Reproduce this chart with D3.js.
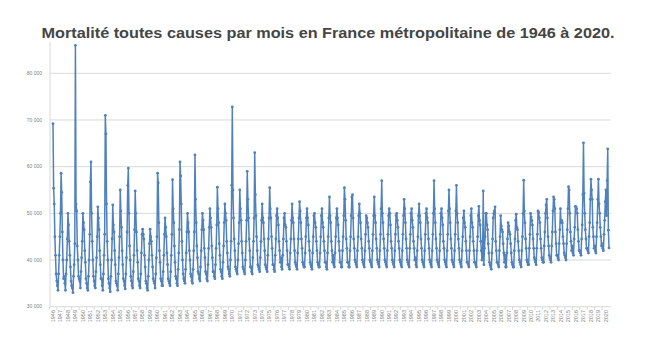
<!DOCTYPE html>
<html><head><meta charset="utf-8">
<script src="https://cdn.jsdelivr.net/npm/d3@7"></script>
<style>html,body{margin:0;padding:0;background:#fff;}svg{display:block;}</style>
</head><body>
<svg id="chart" width="650" height="349"></svg>
<script>
const chartTitle = "Mortalité toutes causes par mois en France métropolitaine de 1946 à 2020.";
const yearLabels = d3.range(1946, 2021).map(String);
const yTickValues = [30, 40, 50, 60, 70, 80];
const yTickLabels = ["30 000", "40 000", "50 000", "60 000", "70 000", "80 000"];
// monthly deaths (thousands), Jan 1946 → Jun 2020
const monthlyDeathsK = [
/*1946*/ 69.2,55.4,52.0,45,41,37,35.5,34.5,33.5,37,41,45,
/*1947*/ 50,58.6,54.5,46,40,36,36.5,35,33.5,37,40,44.5,
/*1948*/ 50.0,47.5,44,41,38.5,35.5,34.5,34,33,36.5,39,43.5,
/*1949*/ 86.0,52.0,50.5,43,40,36.5,36,35.5,34,37.5,40.5,44,
/*1950*/ 50.0,48.0,46.5,42,39.5,36,35,34,33.5,36.5,40,45.5,
/*1951*/ 56.7,61.0,50,44,40,36.5,35.5,34.5,34,37.5,40.5,45,
/*1952*/ 51.4,49,46.5,42,39,36,36,34.5,33.5,37,41,45.5,
/*1953*/ 71.0,67.0,52,44,40,36,35,34,33.2,36.5,40,44.5,
/*1954*/ 51.8,47.5,46,42,39,35.5,35,34.5,33.5,37,40.5,45,
/*1955*/ 55.0,50.5,47,42,39,36,35.5,34.5,33.8,37,40.5,46,
/*1956*/ 56.0,59.7,50,43,40,36.5,35.5,34.5,34,37.5,41,46.5,
/*1957*/ 54.8,50,46,42,39.5,36,35.5,34.5,34,37,41.5,45.5,
/*1958*/ 46.6,45.5,44.5,41,38.5,35.5,35,34,33.5,36.5,40,43.5,
/*1959*/ 46.6,45,44,41,38.5,36,35.5,35,34,37,40.5,45,
/*1960*/ 58.6,56.5,48,42,39.5,36,35.5,34.5,34.5,37.5,41,45.5,
/*1961*/ 49,47,45,41.5,39,36,35.5,35,34.5,37.5,41,45.5,
/*1962*/ 57.2,51,48,43,39.5,36.5,36,35,34.5,38,41.5,46.5,
/*1963*/ 61.0,58,52,44,40,37,36,35.5,35,38,41.5,46,
/*1964*/ 50,48,46,42,40,37,36.5,35.5,35,38,42,46,
/*1965*/ 62.5,53,48,43,40.5,37.5,37,36,35.5,38.5,42,46.5,
/*1966*/ 50,48.5,46.5,42.5,40.5,37.5,37,36,35.5,39,42.5,47,
/*1967*/ 51,49,47,43,40.5,37.5,37.5,36.5,36,39,42.5,47.5,
/*1968*/ 55.6,51,48,43.5,41,38,37.5,36.5,36,39.5,43,48,
/*1969*/ 52,50,48.5,44,41.5,38.5,38,37,36.5,40,44,56,
/*1970*/ 72.8,55,49,44.5,42,38.5,38,37.5,37,40,43.5,48,
/*1971*/ 55,51,48.5,44,41.5,38.5,38,37.5,37,40,44,48.5,
/*1972*/ 59,53,49,44.5,42,38.5,38.5,37.5,37,40.5,44,49,
/*1973*/ 63,54,49.5,45,42,39,38.5,38,37.5,40.5,44,48.5,
/*1974*/ 52,49,48,44.5,42,39,38.5,38,37.5,41,44.5,49,
/*1975*/ 55.5,51,49,45,42.5,39,39,38,37.5,41,44.5,49.5,
/*1976*/ 51,49,47.5,44,42,39.5,40.5,38.5,38,41,44.5,49,
/*1977*/ 50,47.5,47,44,42,39,39,38.5,38,41.5,44.5,48.5,
/*1978*/ 52,49,48,44.5,42,39.5,39,38.5,38,41.5,44.5,49,
/*1979*/ 52.5,50.5,48,44.5,42.5,39.5,39,38.5,38.5,41.5,45,49,
/*1980*/ 51,49,47.5,44,42,39.5,39,38.5,38,41.5,45,49.5,
/*1981*/ 50,48,47,44,42,39.5,39,38.5,38.5,41.5,45,49.5,
/*1982*/ 51,48,47,44,42,39.5,39.5,38.5,38,41.5,45,49,
/*1983*/ 53.5,49.5,48,44,42,39.5,41,39,38.5,41.5,45,49,
/*1984*/ 51,49,47.5,44,42,39.5,39.5,38.5,38.5,42,45,49.5,
/*1985*/ 55.5,53,48.5,44.5,42.5,39.5,39.5,38.5,38.5,42,45,49.5,
/*1986*/ 53.5,54,49,44.5,42.5,40,39.5,39,38.5,42,45,49.5,
/*1987*/ 52,50,48,44.5,42.5,40,39.5,39,38.5,42,45.5,49.5,
/*1988*/ 49,48,47,44,42.5,40,39.5,39,38.5,42,45.5,49.5,
/*1989*/ 53.5,49.5,48,44.5,42.5,40,39.5,39,38.5,42,45.5,51,
/*1990*/ 57,50,48,44.5,42.5,40,39.5,39,38.5,42,45.5,49.5,
/*1991*/ 51,50,47.5,44,42.5,40,39.5,39,38.5,42,45.5,49.5,
/*1992*/ 50,48.5,47,44,42.5,40,39.5,39,38.5,42,45.5,49.5,
/*1993*/ 53,51,48,44.5,42.5,40,39.5,39,38.5,42.5,45.5,50,
/*1994*/ 51,48.5,47,44,42.5,40,40.5,39,38.5,42,45,49.5,
/*1995*/ 52,49.5,48,44.5,42.5,40,39.5,39,38.5,42,45.5,50,
/*1996*/ 51,49,48,44.5,42.5,40,39.5,39,38.5,42,45.5,50,
/*1997*/ 57,51,48,44.5,42.5,40,39.5,39,38.5,42,45.5,50,
/*1998*/ 51,49,47.5,44,42.5,40,39.5,39,38.5,42,45.5,50.5,
/*1999*/ 55,51,48,44.5,42.5,40,39.5,39,38.5,42,45.5,50.5,
/*2000*/ 56,50,48,44.5,42.5,40,39.5,39,38.5,42,45,49,
/*2001*/ 50.5,48,47,44,42,39.5,39.5,39,38.5,42,45,49.5,
/*2002*/ 51,48,47,44,42,39.5,39.5,39,38.5,42,45,49.5,
/*2003*/ 51.5,48.5,47.5,44,42,40,41,54.8,39,42.5,45,50,
/*2004*/ 50,47.5,46.5,43.5,41.5,39.5,39,38.5,38,41.5,44.5,49,
/*2005*/ 50,50.5,51.4,44,42,39.5,39.5,39,38.5,42,45,49.5,
/*2006*/ 47.3,46.5,46,43.5,41.5,39.5,41,38.5,38.5,41.5,44.5,48,
/*2007*/ 47.3,46,45.5,43.5,41.5,39.5,39,38.5,38.5,42,44.5,48.5,
/*2008*/ 49.8,47,46.5,44,42,40,39.5,39,38.5,42,45,50,
/*2009*/ 57.1,50.5,48,44.5,42.5,40,39.5,39,39,42.5,45.5,50,
/*2010*/ 49.2,48.5,47.5,44.5,42.5,40.5,40,39.5,39,42.5,45.5,50.5,
/*2011*/ 50.2,49,48,44.5,42.5,40.5,40,39.5,39.5,43,46,50,
/*2012*/ 51.8,53,49,45,43,41,40.5,40,39.5,43,46,50.5,
/*2013*/ 53.5,53,51,46,43.5,41,41,40.5,40,43.5,46.5,51,
/*2014*/ 48,48.5,48,45,43.5,41.5,41,40.5,40,43.5,46.5,51,
/*2015*/ 55.7,55,50,46,44,42,43,41.5,41,44.5,47,51.5,
/*2016*/ 51.4,51,50,46.5,44,42,42,41.5,41,44.5,47.5,54,
/*2017*/ 65.1,54.3,50,46.5,44.5,42.5,42.5,42,41.5,45,48,53,
/*2018*/ 57.3,55,53,47,45,42.5,43,42,41.5,45,48,53,
/*2019*/ 57.3,52,50,47,45,43,43.5,42.5,42,45.5,48.5,52.5,
/*2020*/ 55,49.5,57,63.8,46.4,42.6
];

const svg = d3.select("#chart");
const x = d3.scaleLinear().domain([0, monthlyDeathsK.length - 1]).range([53, 609]);
const y = d3.scaleLinear().domain([30, 80]).range([306.7, 73.3]);
const monthsPerYear = 12;
const plotLeft = 50, plotRight = 611;

svg.append("text")
  .attr("x", 328).attr("y", 38)
  .attr("text-anchor", "middle")
  .attr("font-family", "Liberation Sans, Arial, sans-serif")
  .attr("font-weight", "bold").attr("font-size", 14)
  .attr("fill", "#454545")
  .attr("textLength", 573).attr("lengthAdjust", "spacingAndGlyphs")
  .text(chartTitle);

// gridlines
svg.append("g").selectAll("line").data(yTickValues).join("line")
  .attr("x1", plotLeft).attr("x2", plotRight)
  .attr("y1", d => y(d)).attr("y2", d => y(d))
  .attr("stroke", "#d9d9d9").attr("stroke-width", 1);

// y axis line
svg.append("line").attr("x1", plotLeft).attr("x2", plotLeft)
  .attr("y1", 42).attr("y2", y(30)).attr("stroke", "#d9d9d9");

// y tick labels
svg.append("g").selectAll("text").data(yTickValues).join("text")
  .attr("x", 42).attr("y", d => y(d) + 1.7)
  .attr("text-anchor", "end")
  .attr("font-family", "Liberation Sans, Arial, sans-serif")
  .attr("font-size", 5).attr("fill", "#7f7f7f")
  .text((d, i) => yTickLabels[i]);

// x tick marks & labels
const xg = svg.append("g");
xg.selectAll("line").data(yearLabels).join("line")
  .attr("x1", (d, i) => x(i * monthsPerYear) - 3.7).attr("x2", (d, i) => x(i * monthsPerYear) - 3.7)
  .attr("y1", y(30)).attr("y2", y(30) + 3)
  .attr("stroke", "#d9d9d9");
xg.selectAll("text").data(yearLabels).join("text")
  .attr("transform", (d, i) => `translate(${x(i * monthsPerYear) + 1.8},${310}) rotate(-90)`)
  .attr("text-anchor", "end")
  .attr("font-family", "Liberation Sans, Arial, sans-serif")
  .attr("font-size", 5.5).attr("fill", "#7f7f7f")
  .text(d => d);

// line
const line = d3.line().x((d, i) => x(i)).y(d => y(d));
svg.append("path").datum(monthlyDeathsK)
  .attr("d", line).attr("fill", "none")
  .attr("stroke", "#4f81bd").attr("stroke-width", 1.5)
  .attr("stroke-linejoin", "round");

svg.append("g").selectAll("circle").data(monthlyDeathsK).join("circle")
  .attr("cx", (d, i) => x(i)).attr("cy", d => y(d)).attr("r", 1.4)
  .attr("fill", "#4f81bd");
</script>
</body></html>
